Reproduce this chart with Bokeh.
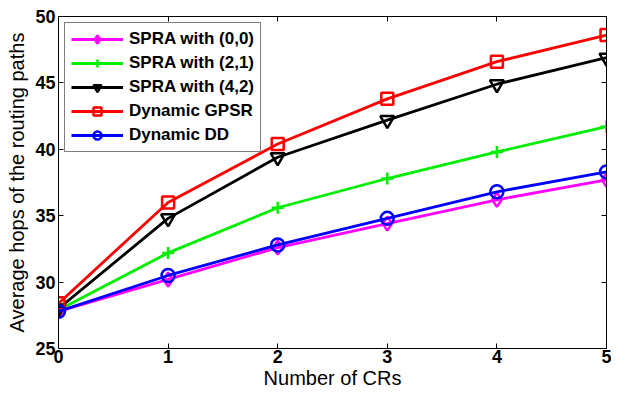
from bokeh.plotting import figure
from bokeh.models import LinearAxis, FixedTicker, Legend, LegendItem
from bokeh.embed import file_html
from bokeh.resources import INLINE

crs = [0, 1, 2, 3, 4, 5]
spra_00 = [27.8, 30.2, 32.6, 34.4, 36.2, 37.7]
spra_21 = [27.9, 32.2, 35.6, 37.8, 39.8, 41.7]
spra_42 = [28.0, 34.8, 39.4, 42.2, 44.9, 46.9]
gpsr = [28.4, 36.0, 40.4, 43.8, 46.6, 48.6]
dd = [27.8, 30.5, 32.8, 34.8, 36.8, 38.3]
x_ticks = [0, 1, 2, 3, 4, 5]
y_ticks = [25, 30, 35, 40, 45, 50]

FONT = "Liberation Sans"

p = figure(width=611, height=391, output_backend="svg", toolbar_location=None,
           x_range=(0, 5), y_range=(25, 50),
           min_border_left=58, min_border_right=5, min_border_top=16, min_border_bottom=42)
p.xgrid.visible = False
p.ygrid.visible = False
p.outline_line_color = "black"
p.outline_line_width = 1
p.background_fill_color = "white"
p.border_fill_color = "white"

def style_axis(ax):
    ax.axis_line_color = "black"
    ax.major_tick_line_color = "black"
    ax.major_tick_in = 5
    ax.major_tick_out = 0
    ax.minor_tick_line_color = None
    ax.major_label_text_font = FONT
    ax.major_label_text_font_style = "bold"
    ax.major_label_text_font_size = "18px"
    ax.major_label_text_color = "black"
    ax.axis_label_text_font = FONT
    ax.axis_label_text_font_style = "normal"
    ax.axis_label_text_font_size = "20px"
    ax.axis_label_text_color = "black"

style_axis(p.xaxis[0])
style_axis(p.yaxis[0])
p.xaxis[0].ticker = FixedTicker(ticks=x_ticks)
p.yaxis[0].ticker = FixedTicker(ticks=y_ticks)
p.xaxis[0].axis_label = "Number of CRs"
p.yaxis[0].axis_label = "Average hops of the routing paths"
p.xaxis[0].major_label_standoff = 1
p.yaxis[0].major_label_standoff = 3
p.xaxis[0].axis_label_standoff = 1
p.yaxis[0].axis_label_standoff = 4

top = LinearAxis(ticker=FixedTicker(ticks=x_ticks))
right = LinearAxis(ticker=FixedTicker(ticks=y_ticks))
for ax in (top, right):
    style_axis(ax)
    ax.major_label_text_font_size = "0px"
    ax.major_label_text_color = None
    ax.major_label_standoff = 0
p.add_layout(top, "above")
p.add_layout(right, "right")

series = [
    ("SPRA with (0,0)", spra_00, "#ff00ff", "diamond", 14),
    ("SPRA with (2,1)", spra_21, "#00ee00", "cross", 12),
    ("SPRA with (4,2)", spra_42, "black", "inverted_triangle", 14),
    ("Dynamic GPSR", gpsr, "#ff0000", "square", 12),
    ("Dynamic DD", dd, "#0000ff", "circle", 13),
]

items = []
for name, ys, color, marker, size in series:
    r1 = p.line(crs, ys, line_color=color, line_width=2.8)
    r2 = p.scatter(crs, ys, marker=marker, size=size, line_color=color,
                   fill_color=None, line_width=2.5)
    items.append(LegendItem(label=name, renderers=[r1, r2]))

legend = Legend(items=items, location="top_left")
legend.label_text_font = FONT
legend.label_text_font_style = "bold"
legend.label_text_font_size = "17px"
legend.label_text_color = "black"
legend.border_line_color = "black"
legend.border_line_width = 1.2
legend.glyph_width = 52
legend.glyph_height = 20
legend.label_height = 20
legend.spacing = 4
legend.padding = 6
legend.margin = 6
legend.label_standoff = 6
p.add_layout(legend)

open("out.html", "w").write(file_html(p, INLINE))
